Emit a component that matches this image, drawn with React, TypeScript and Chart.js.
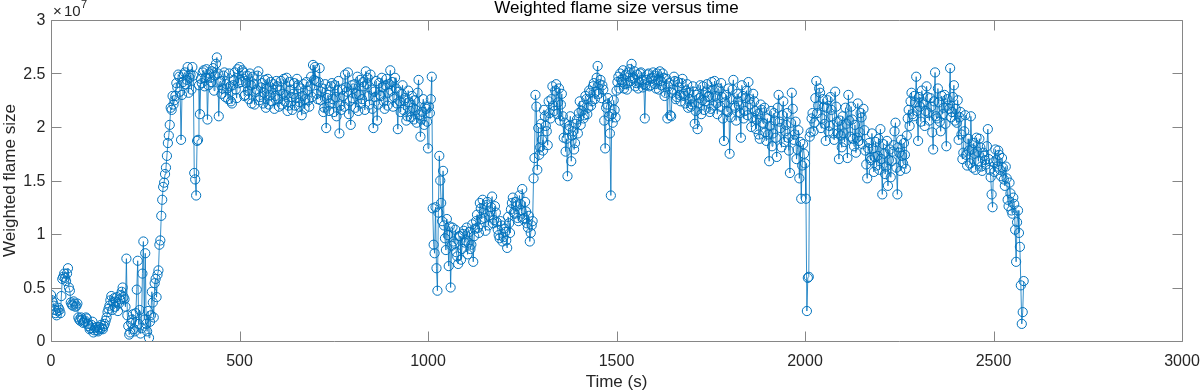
import React, { useEffect, useRef } from "react";
import { Chart, registerables } from "chart.js";

Chart.register(...registerables);

const chartTitle = "Weighted flame size versus time";
const xAxisLabel = "Time (s)";
const yAxisLabel = "Weighted flame size";
const xTickValues = [0, 500, 1000, 1500, 2000, 2500, 3000];
const yTickValues = [0, 0.5, 1, 1.5, 2, 2.5, 3]; // in units of 10^7
const yExponent = 7;
const sampleStepSeconds = 5;

// Weighted flame size (millions), samples at t = 0, 5, 10, ... s
const flameSizeMillions = [
  4.3, 3.6, 2.9, 2.4, 3.1, 2.6, 5.8, 6.3, 5.6, 6.8, 4.7, 3.4, 3.7, 3.2, 3.5, 2.0, 2.2, 1.7, 1.9, 2.1,
  1.4, 1.2, 1.8, 1.0, 1.3, 0.9, 1.1, 1.2, 1.4, 1.9, 2.7, 3.3, 4.2, 3.6, 3.2, 4.1, 3.5, 4.3, 5.0, 3.9,
  7.7, 1.4, 0.8, 2.0, 1.1, 2.6, 7.5, 2.9, 1.2, 9.3, 8.2, 0.9, 0.3, 2.4, 3.6, 5.4, 4.1, 6.6, 9.4, 13.2,
  14.8, 16.2, 18.5, 20.2, 21.6, 22.1, 22.9, 23.7, 24.7, 18.8, 24.2, 25.1, 24.4, 23.2, 24.9, 25.6, 15.7, 13.6, 18.8, 21.2,
  24.1, 25.3, 24.6, 20.7, 25.0, 24.2, 25.5, 24.8, 26.5, 21.0, 24.3, 23.6, 25.1, 24.0, 22.6, 23.8, 22.2, 24.4, 23.5, 25.4,
  25.6, 24.2, 25.1, 23.0, 24.8, 22.6, 23.9, 24.7, 22.1, 23.5, 25.2, 22.8, 24.1, 23.2, 21.8, 24.5, 23.0, 22.4, 24.0, 22.9,
  23.8, 21.9, 24.3, 23.1, 22.4, 24.6, 22.0, 23.5, 21.6, 24.1, 22.7, 23.9, 22.3, 21.1, 24.0, 22.6, 23.4, 21.9, 24.7, 25.8,
  25.6, 23.1, 24.2, 22.5, 23.6, 21.8, 19.9, 23.0, 22.2, 24.1, 21.4, 22.8, 23.4, 19.4, 21.6, 22.9, 24.9, 23.3, 21.2, 20.2,
  22.7, 24.0, 23.1, 21.5, 24.4, 22.6, 23.8, 25.2, 24.6, 22.1, 23.5, 19.9, 22.8, 20.6, 24.1, 22.9, 23.7, 21.7, 24.5, 23.2,
  25.3, 24.2, 22.8, 23.6, 19.8, 22.4, 23.1, 21.6, 22.7, 21.0, 22.3, 20.9, 21.8, 22.5, 20.4, 24.4, 19.1, 21.4, 20.2, 21.7,
  18.0, 21.3, 24.7, 9.0, 12.5, 4.7, 17.3, 12.9, 15.9, 9.6, 11.4, 7.0, 5.0, 10.6, 9.1, 8.3, 7.2, 9.8, 8.6, 10.3,
  9.4, 8.1, 10.2, 9.0, 7.4, 10.5, 11.8, 10.1, 12.4, 13.2, 11.5, 12.7, 10.8, 12.1, 13.5, 11.3, 12.0, 10.4, 9.6, 10.8,
  9.7, 10.2, 8.7, 11.0, 12.3, 13.4, 11.9, 12.6, 11.2, 12.8, 14.2, 11.5, 12.1, 10.6, 9.3, 10.8, 15.2, 23.0, 16.0, 17.4,
  20.3, 17.8, 21.0, 19.6, 22.4, 20.8, 23.8, 21.5, 24.0, 22.3, 20.6, 23.1, 19.0, 17.7, 15.4, 20.1, 16.8, 19.6, 18.5, 20.7,
  21.3, 20.2, 22.0, 21.1, 22.6, 21.8, 23.2, 22.4, 24.1, 23.3, 25.7, 24.0, 22.7, 23.5, 18.0, 22.1, 21.0, 13.6, 20.4, 21.6,
  23.4, 24.7, 25.0, 24.2, 23.6, 24.9, 24.1, 25.4, 25.9, 24.5, 23.8, 24.9, 24.2, 25.1, 23.7, 20.8, 24.4, 25.0, 23.9, 24.6,
  24.8, 23.6, 24.4, 25.2, 23.9, 24.6, 23.2, 20.8, 24.1, 21.0, 23.5, 24.3, 22.8, 23.7, 22.4, 24.5, 22.9, 23.4, 21.8, 22.6,
  22.1, 23.3, 21.5, 19.8, 22.7, 21.2, 23.8, 22.4, 24.0, 22.9, 21.7, 23.5, 24.3, 22.2, 23.6, 21.9, 22.8, 18.7, 23.0, 21.4,
  17.5, 22.6, 24.4, 21.8, 23.1, 22.0, 19.0, 22.9, 21.5, 23.4, 24.2, 22.1, 20.9, 22.4, 19.8, 21.2, 18.9, 21.6, 20.3, 19.5,
  20.8, 16.8, 21.5, 19.4, 20.6, 17.2, 23.0, 19.9, 21.1, 18.6, 20.2, 19.0, 15.7, 23.2, 18.8, 20.5, 17.9, 15.2, 13.3, 18.4,
  16.6, 2.8, 6.0, 19.5, 21.3, 20.4, 24.3, 22.0, 23.2, 20.8, 21.9, 18.7, 22.5, 20.1, 21.6, 19.4, 23.3, 20.5, 17.0, 19.2,
  21.0, 18.6, 20.3, 23.0, 19.1, 20.7, 18.2, 17.6, 22.2, 19.5, 20.9, 21.7, 17.8, 15.2, 18.5, 16.9, 18.0, 17.2, 16.4, 18.9,
  19.8, 13.7, 17.5, 16.3, 14.5, 17.9, 16.8, 18.3, 20.4, 13.7, 17.6, 18.8, 16.6, 17.4, 19.2, 21.6, 22.4, 21.2, 22.9, 24.7,
  18.7, 21.9, 23.4, 22.1, 21.5, 22.8, 20.6, 21.9, 17.9, 25.1, 20.8, 22.3, 19.6, 21.2, 23.0, 18.2, 22.0, 25.5, 21.4, 23.9,
  21.7, 22.5, 20.9, 19.3, 17.6, 21.1, 16.4, 17.8, 21.0, 16.2, 17.5, 19.0, 16.8, 18.1, 15.9, 17.3, 16.5, 19.8, 16.0, 13.7,
  16.7, 17.9, 16.3, 17.4, 15.4, 16.2, 14.5, 15.2, 12.6, 13.8, 11.9, 12.8, 7.4, 12.2, 8.8, 1.6, 5.6,
];

// Weighted flame size (millions), in-between samples at t = 2.5, 7.5, 12.5, ... s
const flameSizeMidMillions = [
  3.8, 3.3, 2.6, 2.8, 2.9, 4.2, 6.0, 5.9, 6.3, 5.0, 3.6, 3.3, 3.5, 3.3, 2.2, 1.9, 2.0, 1.8, 2.2, 1.6,
  1.1, 1.5, 0.8, 1.2, 1.0, 1.3, 1.5, 1.1, 1.6, 2.2, 3.0, 3.8, 2.9, 4.0, 3.7, 2.8, 3.9, 4.6, 4.1, 3.2,
  2.4, 0.6, 1.7, 2.5, 0.9, 4.8, 1.6, 0.7, 6.3, 2.0, 1.6, 2.8, 1.8, 4.6, 2.2, 5.8, 6.2, 9.0, 11.7, 14.4,
  15.6, 17.3, 19.2, 21.8, 22.9, 22.5, 24.1, 24.9, 23.3, 23.0, 24.9, 24.0, 25.6, 24.6, 23.5, 24.8, 15.1, 18.7, 23.9, 24.5,
  25.1, 23.8, 25.4, 23.9, 24.6, 25.2, 23.4, 25.9, 25.0, 24.2, 23.1, 24.8, 22.8, 23.6, 25.0, 22.4, 23.9, 25.1, 22.7, 24.1,
  24.4, 25.3, 22.9, 24.1, 23.4, 25.0, 22.2, 24.0, 23.3, 24.8, 22.5, 23.7, 22.2, 24.4, 23.6, 22.1, 24.2, 23.5, 21.7, 24.3,
  22.6, 23.4, 22.1, 24.5, 23.0, 21.5, 24.2, 22.8, 23.1, 22.0, 24.5, 21.9, 23.6, 22.9, 21.7, 24.2, 22.5, 23.8, 22.8, 24.4,
  24.3, 22.6, 25.5, 23.3, 21.4, 24.0, 22.7, 21.5, 23.8, 22.6, 23.9, 21.0, 24.3, 22.0, 23.5, 21.9, 23.7, 25.1, 22.4, 23.9,
  23.6, 21.8, 24.7, 23.0, 22.2, 24.2, 21.6, 24.0, 22.9, 24.9, 21.7, 23.3, 24.3, 22.1, 23.0, 24.6, 22.4, 23.9, 22.0, 24.0,
  23.4, 21.9, 24.6, 22.2, 23.3, 21.4, 23.9, 22.5, 20.6, 23.4, 21.5, 22.9, 20.7, 21.6, 23.2, 21.1, 20.7, 22.6, 21.9, 20.5,
  21.9, 22.6, 12.4, 8.2, 6.8, 12.0, 15.0, 11.2, 10.8, 8.5, 9.9, 10.7, 8.9, 9.3, 10.4, 7.9, 9.8, 7.6, 10.0, 9.2,
  10.6, 9.2, 8.6, 10.9, 9.8, 11.2, 10.6, 12.9, 11.4, 12.0, 10.3, 13.0, 11.7, 12.5, 11.0, 12.6, 11.1, 9.9, 11.2, 9.3,
  10.5, 9.4, 11.6, 10.1, 12.9, 12.0, 13.0, 11.5, 13.6, 12.2, 11.4, 13.0, 11.0, 11.7, 10.1, 11.2, 17.1, 21.9, 19.9, 18.1,
  18.8, 21.6, 20.1, 18.3, 21.3, 22.6, 22.0, 23.4, 21.2, 23.6, 22.1, 21.0, 20.4, 18.9, 19.8, 21.0, 19.2, 17.9, 20.3, 19.4,
  22.4, 21.5, 20.8, 22.9, 21.2, 23.4, 22.0, 23.8, 22.6, 24.6, 23.1, 24.4, 23.9, 20.6, 21.8, 22.7, 19.4, 21.2, 22.5, 20.9,
  24.2, 23.6, 24.4, 25.3, 24.0, 23.5, 25.1, 24.3, 24.6, 25.2, 24.1, 23.6, 25.0, 24.4, 24.0, 23.9, 24.9, 23.8, 24.5, 25.1,
  24.0, 25.0, 23.5, 24.3, 25.0, 22.9, 24.5, 23.8, 21.1, 23.2, 24.7, 22.6, 24.2, 23.0, 24.1, 23.1, 22.2, 24.0, 23.2, 21.9,
  23.8, 20.3, 23.0, 22.2, 23.9, 22.5, 21.6, 23.3, 22.8, 21.4, 24.2, 22.0, 22.9, 21.2, 23.4, 24.1, 20.8, 22.3, 21.5, 23.6,
  20.9, 23.5, 22.0, 20.6, 22.4, 21.3, 23.9, 20.8, 22.7, 21.1, 22.6, 20.0, 23.1, 21.5, 20.7, 19.3, 22.1, 20.4, 21.8, 18.7,
  19.3, 20.1, 18.2, 21.3, 19.0, 21.8, 20.5, 18.1, 22.4, 19.6, 21.3, 17.8, 20.4, 21.7, 19.3, 17.0, 19.7, 18.6, 16.4, 17.5,
  13.3, 5.9, 19.1, 20.8, 19.6, 22.7, 21.3, 23.6, 19.9, 22.6, 20.3, 21.8, 19.6, 22.8, 21.0, 18.8, 21.9, 19.4, 20.6, 18.1,
  19.4, 21.8, 17.1, 20.6, 21.9, 18.9, 20.2, 19.0, 18.7, 21.3, 18.4, 19.7, 16.5, 18.0, 17.1, 19.4, 15.8, 18.6, 17.3, 16.0,
  17.0, 18.4, 15.6, 18.7, 16.9, 15.3, 17.7, 19.6, 16.2, 18.1, 15.9, 17.3, 18.5, 16.1, 20.8, 20.1, 23.2, 21.0, 22.3, 21.5,
  22.8, 20.5, 22.3, 20.1, 23.8, 21.3, 22.7, 19.5, 22.4, 21.0, 23.6, 20.5, 22.9, 21.8, 20.3, 22.6, 21.7, 20.9, 22.8, 20.6,
  20.4, 18.8, 21.4, 17.0, 19.6, 17.4, 18.9, 16.6, 17.9, 18.5, 16.0, 17.7, 18.9, 16.3, 17.6, 16.9, 18.2, 17.0, 15.3, 12.5,
  15.8, 16.9, 17.8, 16.0, 17.1, 15.1, 16.3, 13.2, 14.8, 12.2, 13.4, 10.4, 11.1, 10.1, 5.2, 2.7,
];

const FONT = '"Liberation Sans", Arial, Helvetica, sans-serif';
const AXIS_COLOR = "#868686";
const TEXT_COLOR = "#262626";
const LINE_COLOR = "#0072BD";

export default function App() {
  const canvasRef = useRef<HTMLCanvasElement | null>(null);

  useEffect(() => {
    document.body.style.margin = "0";
    const canvas = canvasRef.current;
    if (!canvas) return;

    const points: { x: number; y: number }[] = [];
    flameSizeMillions.forEach((v, i) => {
      points.push({ x: i * sampleStepSeconds, y: v * 1e6 });
      if (i < flameSizeMidMillions.length) {
        points.push({
          x: i * sampleStepSeconds + sampleStepSeconds / 2,
          y: flameSizeMidMillions[i] * 1e6,
        });
      }
    });

    const matlabAxes = {
      id: "matlabAxes",
      afterDatasetsDraw(chart: any) {
        const { ctx, chartArea } = chart;
        const xs = chart.scales.x;
        const ys = chart.scales.y;
        const L = Math.floor(chartArea.left) + 0.5;
        const R = Math.floor(chartArea.right) + 0.5;
        const T = Math.floor(chartArea.top) + 0.5;
        const B = Math.floor(chartArea.bottom) + 0.5;
        const tick = 10;
        const mult = Math.pow(10, yExponent);
        ctx.save();
        ctx.strokeStyle = AXIS_COLOR;
        ctx.lineWidth = 1;
        ctx.beginPath();
        ctx.rect(L, T, R - L, B - T);
        for (const v of xTickValues) {
          const px = Math.round(xs.getPixelForValue(v)) + 0.5;
          ctx.moveTo(px, B);
          ctx.lineTo(px, B - tick);
          ctx.moveTo(px, T);
          ctx.lineTo(px, T + tick);
        }
        for (const v of yTickValues) {
          const py = Math.round(ys.getPixelForValue(v * mult)) + 0.5;
          ctx.moveTo(L, py);
          ctx.lineTo(L + tick, py);
          ctx.moveTo(R, py);
          ctx.lineTo(R - tick, py);
        }
        ctx.stroke();

        // tick labels
        ctx.fillStyle = TEXT_COLOR;
        ctx.font = `16px ${FONT}`;
        ctx.textAlign = "center";
        ctx.textBaseline = "alphabetic";
        for (const v of xTickValues) {
          ctx.fillText(String(v), xs.getPixelForValue(v), B + 24);
        }
        ctx.textAlign = "right";
        ctx.textBaseline = "middle";
        for (const v of yTickValues) {
          ctx.fillText(String(v), L - 6, ys.getPixelForValue(v * mult) + 1);
        }

        // exponent label
        ctx.textAlign = "left";
        ctx.textBaseline = "alphabetic";
        ctx.font = `15px ${FONT}`;
        ctx.fillText("\u00d7", 53, 16);
        ctx.fillText("10", 64, 16);
        ctx.font = `11px ${FONT}`;
        ctx.fillText(String(yExponent), 81, 8);

        // title
        ctx.fillStyle = "#000000";
        ctx.font = `17px ${FONT}`;
        ctx.textAlign = "center";
        const cx = (chartArea.left + chartArea.right) / 2;
        ctx.fillText(chartTitle, cx, 13);

        // x label
        ctx.fillStyle = TEXT_COLOR;
        ctx.fillText(xAxisLabel, cx, 387);

        // y label
        ctx.save();
        ctx.translate(15, (chartArea.top + chartArea.bottom) / 2);
        ctx.rotate(-Math.PI / 2);
        ctx.textAlign = "center";
        ctx.fillText(yAxisLabel, 0, 0);
        ctx.restore();

        ctx.restore();
      },
    };

    const chart = new Chart(canvas, {
      type: "line",
      data: {
        datasets: [
          {
            data: points,
            borderColor: LINE_COLOR,
            borderWidth: 0.8,
            pointRadius: 4.6,
            pointBorderWidth: 1,
            pointBorderColor: LINE_COLOR,
            pointBackgroundColor: "rgba(0,0,0,0)",
            tension: 0,
            fill: false,
          },
        ],
      },
      options: {
        animation: false,
        responsive: false,
        maintainAspectRatio: false,
        events: [],
        layout: { padding: { top: 20, right: 18, left: 0, bottom: 0 } },
        plugins: {
          legend: { display: false },
          tooltip: { enabled: false },
          title: { display: false },
        },
        scales: {
          x: {
            type: "linear",
            min: 0,
            max: 3000,
            grid: { display: false },
            border: { display: false },
            ticks: { display: false },
            afterFit: (s: any) => {
              s.height = 50;
            },
          },
          y: {
            type: "linear",
            min: 0,
            max: 3e7,
            grid: { display: false },
            border: { display: false },
            ticks: { display: false },
            afterFit: (s: any) => {
              s.width = 51;
            },
          },
        },
      },
      plugins: [matlabAxes],
    });

    return () => chart.destroy();
  }, []);

  return <canvas ref={canvasRef} width={1200} height={391} style={{ display: "block" }} />;
}
